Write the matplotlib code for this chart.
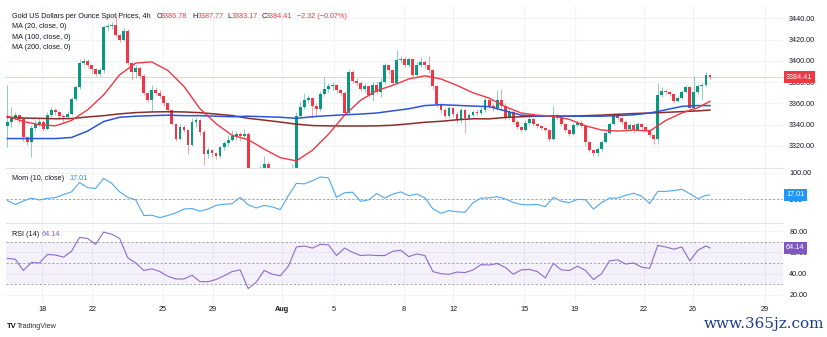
import numpy as np
import matplotlib
matplotlib.use('Agg')
import matplotlib.pyplot as plt

plt.rcParams['font.family'] = ['Liberation Sans', 'DejaVu Sans']

# 4h candles, Jul 16 -> Aug 26 (open of each bar = previous close)
first_open = 3339.0
closes = [3343, 3347, 3349, 3345, 3328, 3324, 3337, 3341, 3343, 3336,
          3349, 3354, 3352, 3348, 3347, 3350, 3364, 3375, 3398, 3400,
          3396, 3392, 3388, 3391, 3432, 3433, 3434, 3424, 3420, 3428,
          3398, 3390, 3393, 3386, 3370, 3363, 3373, 3370, 3367, 3360,
          3354, 3341, 3327, 3338, 3335, 3321, 3343, 3344, 3333, 3312,
          3316, 3313, 3311, 3319, 3323, 3326, 3329, 3331, 3329, 3331,
          3290, 3280, 3288, 3296, 3303, 3294, 3287, 3282, 3289, 3293,
          3290, 3296, 3348, 3357, 3363, 3365, 3358, 3355, 3369, 3374,
          3376, 3377, 3373, 3370, 3351, 3390, 3381, 3379, 3374, 3376,
          3368, 3377, 3371, 3380, 3396, 3391, 3379, 3401, 3402, 3396,
          3402, 3387, 3396, 3399, 3396, 3391, 3376, 3359, 3354, 3348,
          3356, 3350, 3344, 3354, 3346, 3349, 3352, 3351, 3354, 3363,
          3358, 3356, 3363, 3358, 3346, 3352, 3343, 3338, 3335, 3342,
          3345, 3341, 3339, 3337, 3335, 3327, 3349, 3346, 3341, 3335,
          3331, 3340, 3342, 3339, 3324, 3316, 3313, 3317, 3324, 3332,
          3341, 3349, 3346, 3343, 3336, 3340, 3335, 3341, 3338, 3335,
          3330, 3327, 3368, 3372, 3371, 3369, 3362, 3365, 3371, 3375,
          3356, 3371, 3376, 3377, 3386.78, 3384.41]
highs = [3377, 3357, 3352, 3350, 3347, 3328, 3340, 3344, 3346, 3344,
         3352, 3357, 3356, 3353, 3350, 3353, 3366, 3377, 3402, 3403,
         3402, 3396, 3393, 3393, 3434, 3436, 3437, 3444, 3425, 3431,
         3430, 3399, 3396, 3394, 3388, 3371, 3377, 3375, 3373, 3368,
         3360, 3355, 3342, 3341, 3340, 3336, 3346, 3347, 3345, 3335,
         3319, 3317, 3314, 3320, 3325, 3330, 3335, 3334, 3333, 3336,
         3333, 3292, 3296, 3302, 3311, 3306, 3298, 3290, 3295, 3299,
         3298, 3303, 3352, 3362, 3370, 3368, 3366, 3360, 3372, 3385,
         3379, 3380, 3378, 3374, 3372, 3392, 3391, 3384, 3381, 3379,
         3377, 3380, 3380, 3384, 3398, 3397, 3392, 3410, 3405, 3405,
         3404, 3403, 3399, 3404, 3401, 3405, 3392, 3377, 3360, 3356,
         3358, 3357, 3353, 3356, 3355, 3351, 3354, 3355, 3357, 3366,
         3364, 3360, 3373, 3374, 3360, 3355, 3354, 3344, 3339, 3344,
         3347, 3346, 3342, 3340, 3338, 3336, 3358, 3350, 3347, 3342,
         3336, 3342, 3344, 3344, 3340, 3325, 3317, 3319, 3326, 3334,
         3343, 3351, 3350, 3347, 3344, 3342, 3342, 3343, 3342, 3339,
         3336, 3331, 3379, 3375, 3374, 3372, 3370, 3367, 3373, 3377,
         3376, 3386, 3378, 3379, 3390, 3387.77]
lows = [3319, 3338, 3344, 3342, 3325, 3321, 3310, 3334, 3339, 3334,
        3335, 3347, 3349, 3345, 3343, 3345, 3349, 3362, 3374, 3396,
        3393, 3389, 3386, 3386, 3389, 3428, 3430, 3422, 3418, 3419,
        3396, 3382, 3384, 3383, 3368, 3361, 3352, 3368, 3365, 3358,
        3352, 3340, 3325, 3326, 3333, 3312, 3320, 3338, 3330, 3302,
        3309, 3310, 3308, 3309, 3316, 3320, 3325, 3326, 3325, 3327,
        3285, 3272, 3276, 3285, 3293, 3290, 3282, 3270, 3278, 3284,
        3285, 3287, 3294, 3347, 3355, 3360, 3346, 3348, 3353, 3367,
        3371, 3373, 3370, 3367, 3349, 3350, 3379, 3376, 3372, 3371,
        3366, 3362, 3369, 3366, 3378, 3388, 3377, 3378, 3398, 3394,
        3394, 3385, 3385, 3394, 3393, 3389, 3374, 3357, 3351, 3346,
        3346, 3347, 3342, 3342, 3332, 3344, 3347, 3348, 3349, 3352,
        3356, 3353, 3354, 3354, 3344, 3345, 3341, 3336, 3333, 3334,
        3340, 3339, 3337, 3335, 3333, 3325, 3326, 3344, 3339, 3333,
        3329, 3330, 3338, 3337, 3320, 3314, 3311, 3311, 3315, 3323,
        3331, 3340, 3344, 3341, 3334, 3334, 3332, 3334, 3336, 3333,
        3328, 3322, 3322, 3366, 3369, 3367, 3360, 3361, 3364, 3370,
        3354, 3353, 3369, 3363, 3375, 3383.17]

# moving averages read every 4 bars
ma_idx = list(range(0, 173, 4)) + [175]
ma20 = [3348, 3343, 3340, 3339, 3344, 3354, 3368, 3387, 3398, 3399,
        3391, 3376, 3355, 3341, 3330, 3326, 3317, 3309, 3306, 3316,
        3331, 3349, 3363, 3372, 3377, 3383, 3386, 3383, 3377, 3370,
        3365, 3357, 3351, 3349, 3348, 3345, 3339, 3335, 3334, 3335,
        3334, 3344, 3351, 3356, 3362]
ma100 = [3327, 3327, 3327, 3327, 3328, 3334, 3343, 3347, 3348, 3348.5,
         3349, 3348.5, 3348.5, 3348, 3347.5, 3348, 3347.5, 3347, 3346, 3347.5,
         3348.5, 3349.3, 3350, 3351, 3353, 3355, 3358, 3358.8, 3358.2, 3357.5,
         3357, 3353, 3349, 3348, 3348, 3348, 3348, 3348, 3348.5, 3349.3,
         3351, 3354, 3357.2, 3358, 3358]
ma200 = [3347, 3346.3, 3346, 3345.6, 3345.8, 3347.3, 3348.5, 3350.2, 3351.4, 3352,
         3352.2, 3352, 3351.3, 3350, 3348.6, 3346, 3344.3, 3342.5, 3340.5, 3339.2,
         3338.9, 3338.8, 3338.8, 3338.9, 3339.5, 3340.8, 3342.3, 3343.2, 3344.6, 3345.6,
         3345.5, 3346.8, 3347.5, 3348, 3348, 3348, 3348.5, 3349, 3349.8, 3350.5,
         3351, 3351.6, 3352.3, 3353, 3353.8]

# indicators read every 2 bars
ind_idx = list(range(0, 175, 2)) + [175]
mom = [-4, -19, -6, 5, -2, 4, 7, 18, 28, 63,
       44, 41, 78, 60, 28, 8, -2, -60, -59, -68,
       -60, -50, -36, -34, -44, -36, -22, -18, -16, 8,
       -20, -32, -22, -28, -38, 14, 60, 58, 70, 84,
       80, 8, 25, 27, -7, -2, 22, 5, 20, 28,
       14, 20, 6, -35, -52, -42, -46, -48, -12, 5,
       6, 10, 2, -11, -19, -20, -19, -27, 8, -7,
       -12, 0, -1, -36, -12, 5, 5, 15, 23, 12,
       -15, 30, 30, 33, 38, 21, 3, 15, 17.01]
rsi = [54.4, 53.5, 43, 50.5, 50, 58, 57.5, 55.5, 61, 74,
       73, 67.5, 79, 77, 73, 55, 50, 43, 44.5, 42,
       37.5, 35, 35, 38.5, 32.5, 32.5, 34.5, 38, 42, 43.5,
       26, 32, 43, 39.5, 38, 47, 65, 66, 64, 67.5,
       67, 57, 64, 60, 57, 57.5, 57, 57, 61, 62,
       56, 58.5, 57, 42, 40, 39.4, 41.5, 41, 43.5, 48.5,
       48.1, 49.5, 46, 39.5, 43.5, 44, 42, 36, 49.7, 43.5,
       43, 47, 43, 34.5, 40, 52, 53, 49, 50, 46,
       45, 66.5, 65, 63, 65, 52, 62, 66, 64.14]

tick_pos = [8.7, 21.2, 38.7, 51.2, 68.3, 81.3, 98.8, 111.0, 128.8, 141.3, 158.6, 170.8, 188.6]
tick_labels = ['18', '22', '25', '29', 'Aug', '5', '8', '12', '15', '19', '22', '26', '29']
price_ticks = [3320, 3340, 3360, 3380, 3400, 3420, 3440]

GREEN = '#089981'
RED = '#F23645'
TXT = '#131722'
GRID = '#f0f3fa'
FS = 5.2

W, H = 828, 337
fig = plt.figure(figsize=(W / 100, H / 100), dpi=100)


def rect(x0, y0, x1, y1):
    return [x0 / W, 1 - y1 / H, (x1 - x0) / W, (y1 - y0) / H]


def ftext(x, y, s, **kw):
    kw.setdefault('fontsize', FS)
    kw.setdefault('color', TXT)
    kw.setdefault('va', 'center')
    fig.text(x / W, 1 - y / H, s, **kw)


ax_p = fig.add_axes(rect(6, 6, 783, 168))
ax_m = fig.add_axes(rect(6, 169, 783, 223), sharex=ax_p)
ax_r = fig.add_axes(rect(6, 224, 783, 302), sharex=ax_p)

for ax in (ax_p, ax_m, ax_r):
    for s in ax.spines.values():
        s.set_visible(False)
    ax.yaxis.tick_right()
    ax.tick_params(length=0, labelsize=FS, labelcolor=TXT, pad=4.5)
    ax.set_xticks(tick_pos)
    ax.grid(True, color=GRID, lw=0.8)
    ax.set_axisbelow(True)
ax_p.spines['bottom'].set_visible(True)
ax_p.spines['bottom'].set_color('#e0e3eb')
ax_m.spines['bottom'].set_visible(True)
ax_m.spines['bottom'].set_color('#e0e3eb')

# candles
idx = np.arange(len(closes))
c = np.array(closes, dtype=float)
o = np.array([first_open] + closes[:-1], dtype=float)
h = np.array(highs, dtype=float)
l = np.array(lows, dtype=float)
col = np.where(c >= o, GREEN, RED)
ax_p.vlines(idx, l, h, colors=col, lw=0.6, alpha=0.55)
ax_p.bar(idx, np.maximum(np.abs(c - o), 0.8), bottom=np.minimum(o, c),
         width=0.7, color=col, lw=0)

ax_p.plot(ma_idx, ma200, color='#8B2C2C', lw=1.1)
ax_p.plot(ma_idx, ma100, color='#2b55d6', lw=1.1)
ax_p.plot(ma_idx, ma20, color=RED, lw=1.0)
ax_p.axhline(closes[-1], color=RED, lw=0.6, alpha=0.3)

ax_p.set_xlim(-0.32, 193.2)
ax_p.set_ylim(3299.3, 3451.6)
ax_p.set_yticks(price_ticks)
ax_p.set_yticklabels(['%.2f' % v for v in price_ticks])

# momentum
ax_m.plot(ind_idx, mom, color='#4FA8F0', lw=0.8)
ax_m.axhline(0, color='#9598a1', lw=0.6, ls=(0, (2.5, 2.5)))
ax_m.set_ylim(-88, 113.5)
ax_m.set_yticks([0, 100])
ax_m.set_yticklabels(['0.00', '100.00'])

# RSI
ax_r.axhspan(30, 70, color='#7E57C2', alpha=0.08, lw=0)
for lv in (70, 50, 30):
    ax_r.axhline(lv, color='#9598a1', lw=0.6, ls=(0, (2.5, 2.5)))
ax_r.plot(ind_idx, rsi, color='#8E6BCB', lw=0.8)
ax_r.set_ylim(13.4, 86.6)
ax_r.set_yticks([20, 40, 60, 80])
ax_r.set_yticklabels(['20.00', '40.00', '60.00', '80.00'])

for ax in (ax_p, ax_m):
    ax.tick_params(labelbottom=False)
ax_r.set_xticklabels(tick_labels)
ax_r.tick_params(axis='x', pad=3)
for t in ax_r.get_xticklabels():
    if t.get_text() == 'Aug':
        t.set_fontweight('bold')


def tag(ax, y, s, color):
    ax.text(1.004, y, s, transform=ax.get_yaxis_transform(), ha='left', va='center',
            fontsize=FS, color='white', clip_on=False, zorder=10,
            bbox=dict(boxstyle='square,pad=0.35', fc=color, ec='none'))


tag(ax_p, closes[-1], '%.2f' % closes[-1], RED)
tag(ax_m, mom[-1], '%.2f' % mom[-1], '#2196F3')
tag(ax_r, rsi[-1], '%.2f' % rsi[-1], '#7E57C2')

# legends
ftext(11.7, 16, 'Gold US Dollars per Ounce Spot Prices, 4h')
for x, lab, x2, val in [(156.7, 'O', 161, '3386.78'), (192.3, 'H', 197.3, '3387.77'),
                        (227.5, 'L', 231.3, '3383.17'), (261.5, 'C', 265.7, '3384.41')]:
    ftext(x, 16, lab)
    ftext(x2, 16, val, color=RED)
ftext(296.7, 16, '\u22122.32 (\u22120.07%)', color=RED)
ftext(11.7, 26.7, 'MA (20, close, 0)')
ftext(11.7, 37.3, 'MA (100, close, 0)')
ftext(11.7, 47.7, 'MA (200, close, 0)')
ftext(11.7, 178.3, 'Mom (10, close)')
ftext(69.3, 178.3, '17.01', color='#2196F3')
ftext(11.7, 234, 'RSI (14)')
ftext(41.7, 234, '64.14', color='#7E57C2')

ftext(7, 326, 'TV', fontweight='bold', fontsize=5.5)
ftext(17, 326, 'TradingView', fontsize=5.2, color='#2a2e39')
ftext(764, 324, 'www.365jz.com', ha='center', fontsize=11, color='#1d3c8c',
      family=['DejaVu Serif'])

fig.savefig('out.png', dpi=100, facecolor='white')
